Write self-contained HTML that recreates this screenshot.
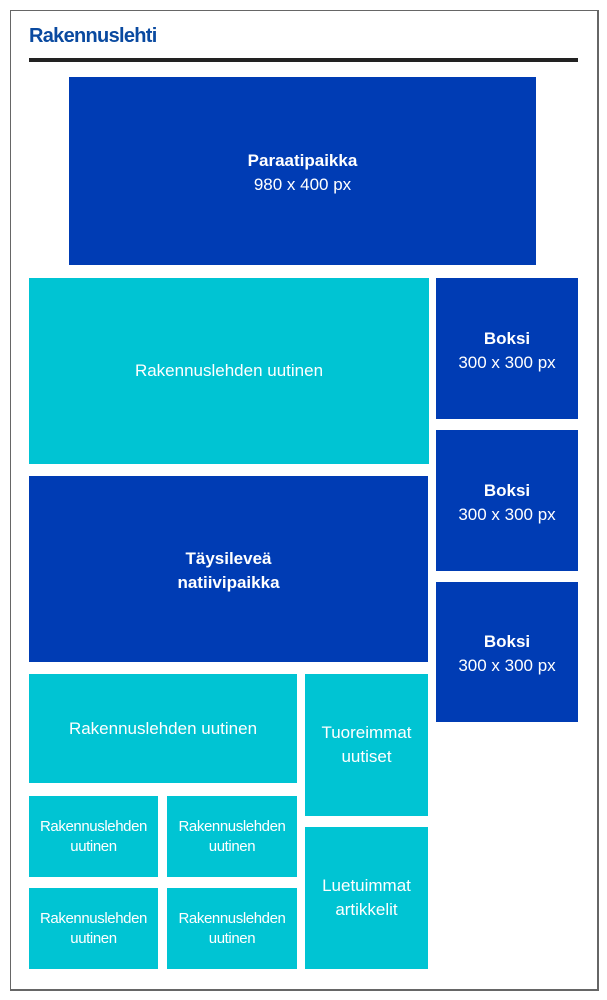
<!DOCTYPE html>
<html><head><style>
body{margin:0;width:607px;height:1000px;background:#fff;position:relative;font-family:"Liberation Sans",sans-serif;overflow:hidden}
.b{position:absolute;display:flex;align-items:center;justify-content:center;text-align:center;color:#fff;font-size:17px;line-height:24px}
.d{background:#003cb4}
.c{background:#00c4d3}
.s{font-size:15px;line-height:20px;letter-spacing:-0.4px}
</style></head><body>
<div style="position:absolute;left:10px;top:10px;width:586px;height:978px;border:1px solid #666;border-right-width:2px;border-bottom-width:2px"></div>
<div style="position:absolute;left:29px;top:25px;font-size:20px;font-weight:bold;color:#0a4aa0;letter-spacing:-0.7px">Rakennuslehti</div>
<div style="position:absolute;left:29px;top:58px;width:549px;height:4px;background:#222"></div>
<div class="b d" style="left:69px;top:77px;width:467px;height:188px"><div style="margin-top:4px"><b>Paraatipaikka</b><br>980 x 400 px</div></div>
<div class="b c" style="left:29px;top:278px;width:400px;height:186px">Rakennuslehden uutinen</div>
<div class="b d" style="left:29px;top:476px;width:399px;height:186px"><b style="margin-top:4px">Täysileveä<br>natiivipaikka</b></div>
<div class="b d" style="left:436px;top:278px;width:142px;height:141px"><div style="margin-top:4px"><b>Boksi</b><br>300 x 300 px</div></div>
<div class="b d" style="left:436px;top:430px;width:142px;height:141px"><div style="margin-top:4px"><b>Boksi</b><br>300 x 300 px</div></div>
<div class="b d" style="left:436px;top:582px;width:142px;height:140px"><div style="margin-top:4px"><b>Boksi</b><br>300 x 300 px</div></div>
<div class="b c" style="left:29px;top:674px;width:268px;height:109px">Rakennuslehden uutinen</div>
<div class="b c" style="left:305px;top:674px;width:123px;height:142px">Tuoreimmat<br>uutiset</div>
<div class="b c" style="left:305px;top:827px;width:123px;height:142px">Luetuimmat<br>artikkelit</div>
<div class="b c s" style="left:29px;top:796px;width:129px;height:81px">Rakennuslehden<br>uutinen</div>
<div class="b c s" style="left:167px;top:796px;width:130px;height:81px">Rakennuslehden<br>uutinen</div>
<div class="b c s" style="left:29px;top:888px;width:129px;height:81px">Rakennuslehden<br>uutinen</div>
<div class="b c s" style="left:167px;top:888px;width:130px;height:81px">Rakennuslehden<br>uutinen</div>
</body></html>
